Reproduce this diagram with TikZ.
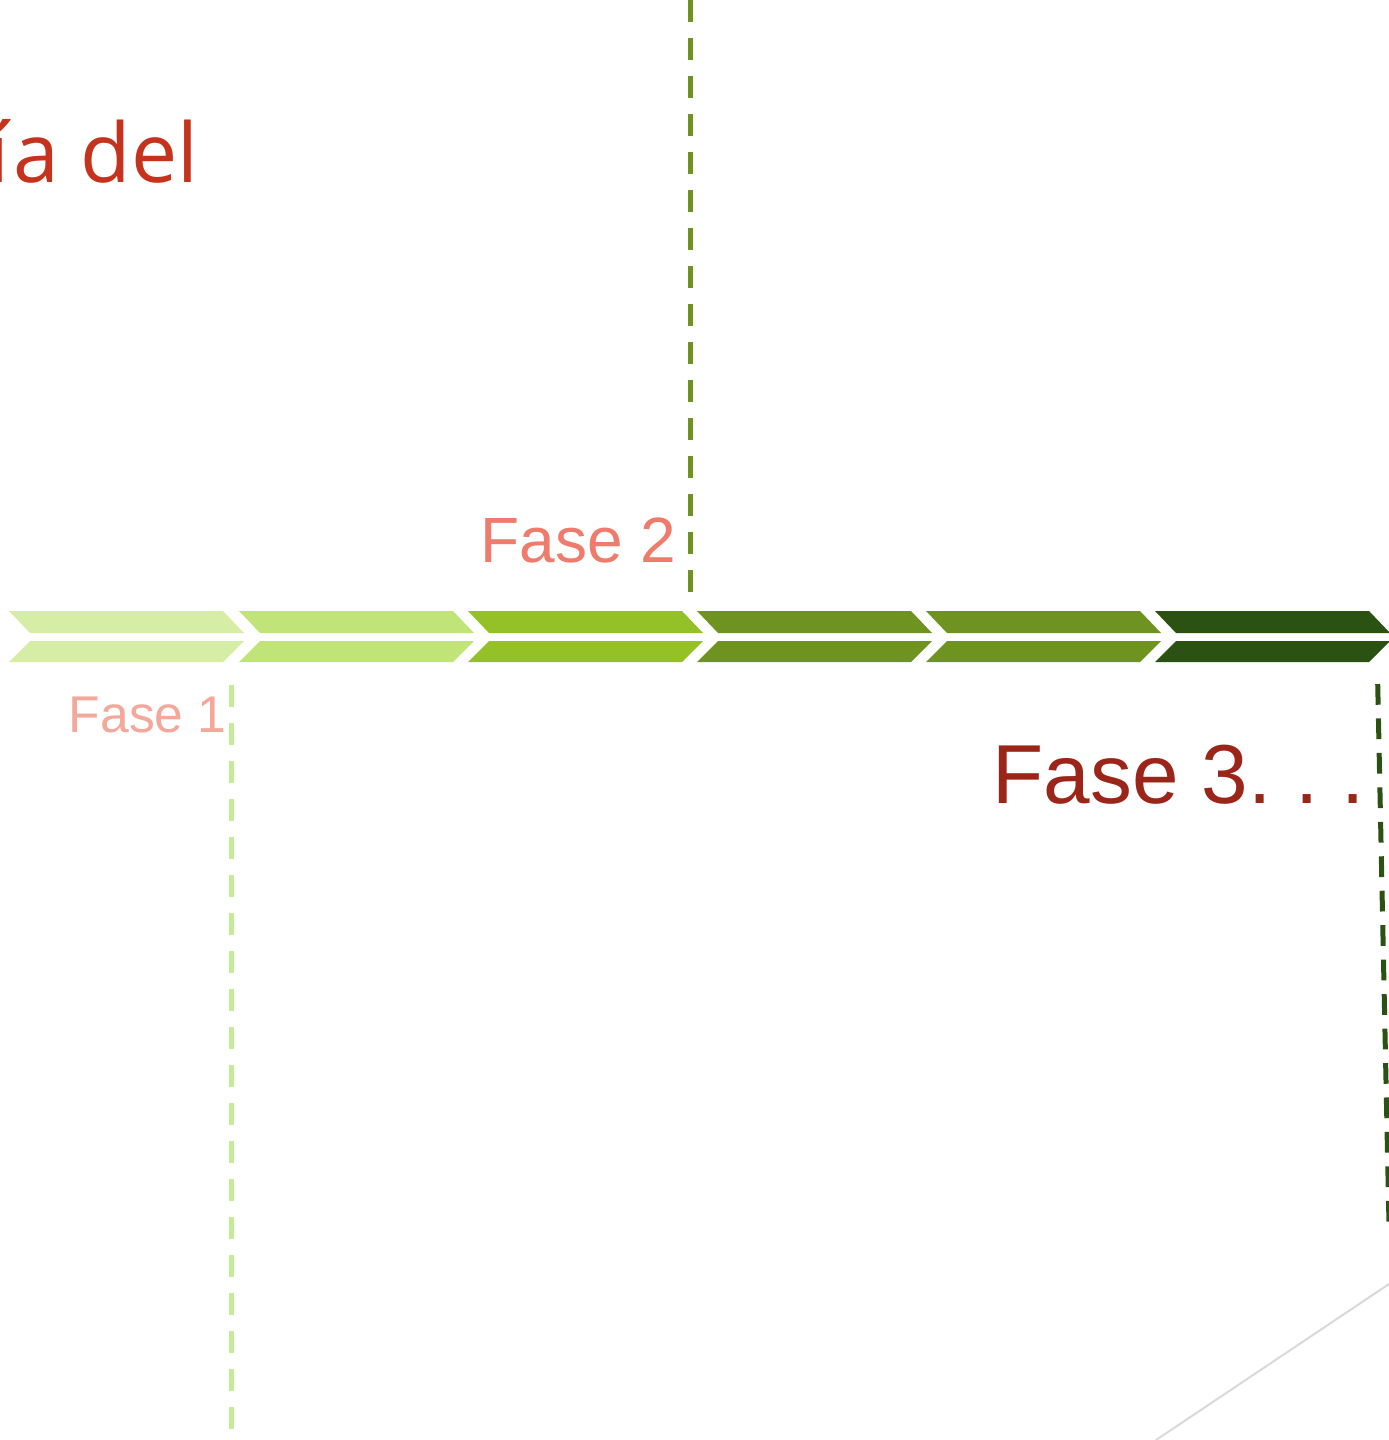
\documentclass[tikz,border=0pt]{standalone}
\usepackage{fontspec}
\setmainfont{Liberation Sans}
\newfontfamily\titlefont{Open Sans}
\definecolor{chevA}{HTML}{D6EDA6}
\definecolor{chevB}{HTML}{C1E479}
\definecolor{chevC}{HTML}{93C127}
\definecolor{chevD}{HTML}{6F9321}
\definecolor{chevE}{HTML}{2C5213}
\definecolor{leadA}{HTML}{C3EB98}
\definecolor{titelred}{HTML}{C5321E}
\definecolor{faseAred}{HTML}{F4A89B}
\definecolor{faseBred}{HTML}{EE7B6B}
\definecolor{faseCred}{HTML}{9A2518}
\tikzset{
	lbl/.style={inner sep=0pt, anchor=base west},
	lead/.style={line width=1.42pt, dash pattern=on 6.26pt off 4.55pt}
}
\begin{document}
\frenchspacing
\begin{tikzpicture}[x=0.01cm,y=-0.01cm]
			\useasboundingbox (0,0) rectangle (1389,1440);
			
			%Title (cut off)
			\node[inner sep=0pt, anchor=base east, text=titelred, font=\titlefont\fontsize{23.4}{26}\selectfont] (titel) at (199,183) {í\kern1.3pt a del};
			
			%One Chevron
			\def\x{9}
			\fill[chevA] (\x,611) -- (214+\x,611) -- (235+\x,633) -- (21+\x,633) -- cycle;
			\fill[chevA] (21+\x,641) -- (235+\x,641) -- (214+\x,662) -- (\x,662) -- cycle;
			
			%One Chevron
			\def\x{239}
			\fill[chevB] (\x,611) -- (214+\x,611) -- (235+\x,633) -- (21+\x,633) -- cycle;
			\fill[chevB] (21+\x,641) -- (235+\x,641) -- (214+\x,662) -- (\x,662) -- cycle;
			
			%One Chevron
			\def\x{468}
			\fill[chevC] (\x,611) -- (214+\x,611) -- (235+\x,633) -- (21+\x,633) -- cycle;
			\fill[chevC] (21+\x,641) -- (235+\x,641) -- (214+\x,662) -- (\x,662) -- cycle;
			
			%One Chevron
			\def\x{697}
			\fill[chevD] (\x,611) -- (214+\x,611) -- (235+\x,633) -- (21+\x,633) -- cycle;
			\fill[chevD] (21+\x,641) -- (235+\x,641) -- (214+\x,662) -- (\x,662) -- cycle;
			
			%One Chevron
			\def\x{926}
			\fill[chevD] (\x,611) -- (214+\x,611) -- (235+\x,633) -- (21+\x,633) -- cycle;
			\fill[chevD] (21+\x,641) -- (235+\x,641) -- (214+\x,662) -- (\x,662) -- cycle;
			
			%One Chevron
			\def\x{1155}
			\fill[chevE] (\x,611) -- (214+\x,611) -- (235+\x,633) -- (21+\x,633) -- cycle;
			\fill[chevE] (21+\x,641) -- (235+\x,641) -- (214+\x,662) -- (\x,662) -- cycle;
			
			%Labels
			\node[lbl, text=faseAred, font=\fontsize{14.7}{18}\selectfont] (fasea) at (68,732) {Fase 1};
			\node[lbl, text=faseBred, font=\fontsize{18.2}{22}\selectfont] (faseb) at (480,562) {Fase 2};
			\node[lbl, text=faseCred, font=\fontsize{23.8}{28}\selectfont] (fasec) at (992,803) {Fase 3. . .};
			
			%Lines
			\coordinate (ltop) at (231.7,685);
			\coordinate (lbot) at (231.7,1430);
			\draw[lead, leadA] (ltop) -- (lbot);
			\coordinate (mtop) at (690.5,0);
			\coordinate (mbot) at (690.5,593);
			\draw[lead, chevD] (mtop) -- (mbot);
			\coordinate (rtop) at (1377.7,684);
			\coordinate (rbot) at (1389,1225);
			\draw[line width=1.42pt, dash pattern=on 5.9pt off 3.9pt, chevE] (rtop) -- (rbot);
			\coordinate (gtop) at (1389,1284);
			\coordinate (gbot) at (1156,1440);
			\draw[line width=0.57pt, black!15] (gtop) -- (gbot);
		\end{tikzpicture}
\end{document}
